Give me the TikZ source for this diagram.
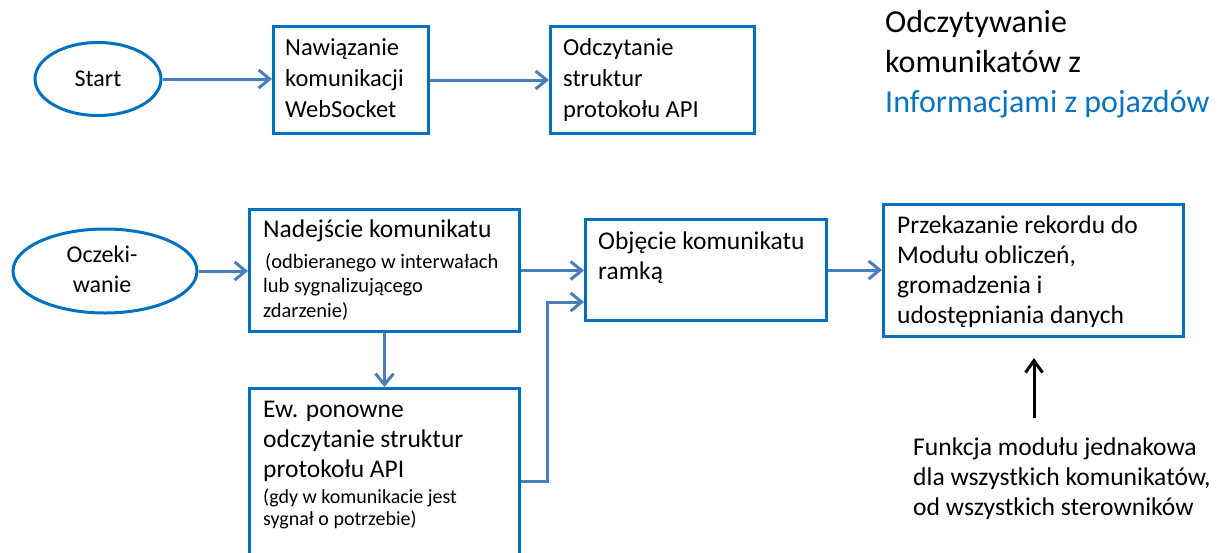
\documentclass[tikz,border=0pt]{standalone}
\usepackage{fontspec}
\setmainfont{Carlito}
\usetikzlibrary{arrows.meta,shapes.geometric}

\definecolor{boxblue}{RGB}{0,112,192}
\definecolor{arrowblue}{RGB}{74,126,187}
\definecolor{titleblue}{RGB}{10,116,196}

% left-aligned block of lines; its baseline is that of the first line
\newcommand\txtlines[1]{\vtop{\halign{##\hfil\cr#1\crcr}}}
% centred block of lines, same baseline rule
\newcommand\txtlinesc[1]{\vtop{\halign{\hfil##\hfil\cr#1\crcr}}}

\tikzset{
  boxn/.style={draw=boxblue, line width=3pt, rectangle, inner sep=0pt, anchor=north west},
  oval/.style={draw=boxblue, line width=3pt, ellipse, inner sep=0pt},
  flow/.style={draw=arrowblue, line width=3pt, -{Straight Barb[length=11pt,width=18pt]}},
  lbl/.style={anchor=base west, inner sep=0pt, font=\fontsize{25.5}{31}\selectfont},
  lblsmall/.style={anchor=base west, inner sep=0pt, font=\fontsize{20.5}{24.5}\selectfont},
}

\begin{document}
\begin{tikzpicture}[x=1pt, y=-1pt]
\useasboundingbox (0,0) rectangle (1230,552);
\clip (0,0) rectangle (1230,552);

% ---- top row ----
\node[oval, minimum width=126pt, minimum height=73pt,
      font=\fontsize{24}{29}\selectfont] (start) at (98,79) {Start};
\node[boxn, minimum width=155pt, minimum height=107pt] (b1) at (272,25) {};
\node[lbl, font=\fontsize{24.5}{31}\selectfont] (t1) at (285,55) {\txtlines{Nawiązanie\cr komunikacji\cr WebSocket}};
\node[boxn, minimum width=204pt, minimum height=107pt] (b2) at (549,25) {};
\node[lbl, font=\fontsize{24.5}{31}\selectfont] (t2) at (563,55) {\txtlines{Odczytanie\cr struktur\cr protokołu API}};

\draw[flow] (start.east) -- (start.east -| b1.west);
\draw[flow] (b1.east) -- (b1.east -| b2.west);

% ---- title ----
\node[anchor=base west, inner sep=0pt, font=\fontsize{32}{40}\selectfont] (title) at (885,32)
  {\txtlines{Odczytywanie\cr komunikatów z\cr \relax\textcolor{titleblue}{Informacjami z pojazdów}}};

% ---- message loop ----
\node[oval, minimum width=184pt, minimum height=84pt] (wait) at (105,271) {};
\node[anchor=base, inner sep=0pt, font=\fontsize{24}{30}\selectfont] (twait) at (102,262)
  {\txtlinesc{Oczeki-\cr wanie}};

\node[boxn, minimum width=270pt, minimum height=122pt] (b3) at (248,208) {};
\node[lbl] (t3) at (263,237) {Nadejście komunikatu};
\node[lblsmall] (t3s) at (263,268)
  {\txtlines{\relax\hspace{2pt}(odbieranego w interwałach\cr lub sygnalizującego\cr zdarzenie)}};

\node[boxn, minimum width=241pt, minimum height=101pt] (b4) at (584,218) {};
\node[lbl, font=\fontsize{25.5}{30}\selectfont] (t4) at (598,249)
  {\txtlines{Objęcie komunikatu\cr ramką}};

\node[boxn, minimum width=300pt, minimum height=132pt] (b5) at (882,203) {};
\node[lbl, font=\fontsize{25.5}{30}\selectfont] (t5) at (897,233)
  {\txtlines{Przekazanie rekordu do\cr Modułu obliczeń,\cr gromadzenia i\cr udostępniania danych}};

\node[boxn, minimum width=270pt, minimum height=186pt] (b6) at (248,387) {};
\node[lbl, font=\fontsize{25.5}{30}\selectfont] (t6) at (263,417)
  {\txtlines{Ew. ponowne\cr odczytanie struktur\cr protokołu API}};
\node[lblsmall, font=\fontsize{20}{22.5}\selectfont] (t6s) at (263,503)
  {\txtlines{(gdy w komunikacie jest\cr sygnał o potrzebie)}};

\draw[flow] (wait.east) -- (wait.east -| b3.west);
\draw[flow] (b3.east) -- (b3.east -| b4.west);
\draw[flow] (b4.east) -- (b4.east -| b5.west);
\draw[flow] (b3.south) -- (b6.north);
\coordinate (turn) at (547,302);
\draw[flow] (b6.east) -| (turn) -- (turn -| b4.west);

% ---- note under the last step ----
\node[anchor=base west, inner sep=0pt, font=\fontsize{25.6}{30}\selectfont] (note) at (913,455)
  {\txtlines{Funkcja modułu jednakowa\cr dla wszystkich komunikatów,\cr od wszystkich sterowników}};
\coordinate (up0) at (1034,418);
\coordinate (up1) at (1034,358);
\draw[black, line width=3pt, -{Straight Barb[length=12pt,width=17pt]}] (up0) -- (up1);
\end{tikzpicture}
\end{document}
